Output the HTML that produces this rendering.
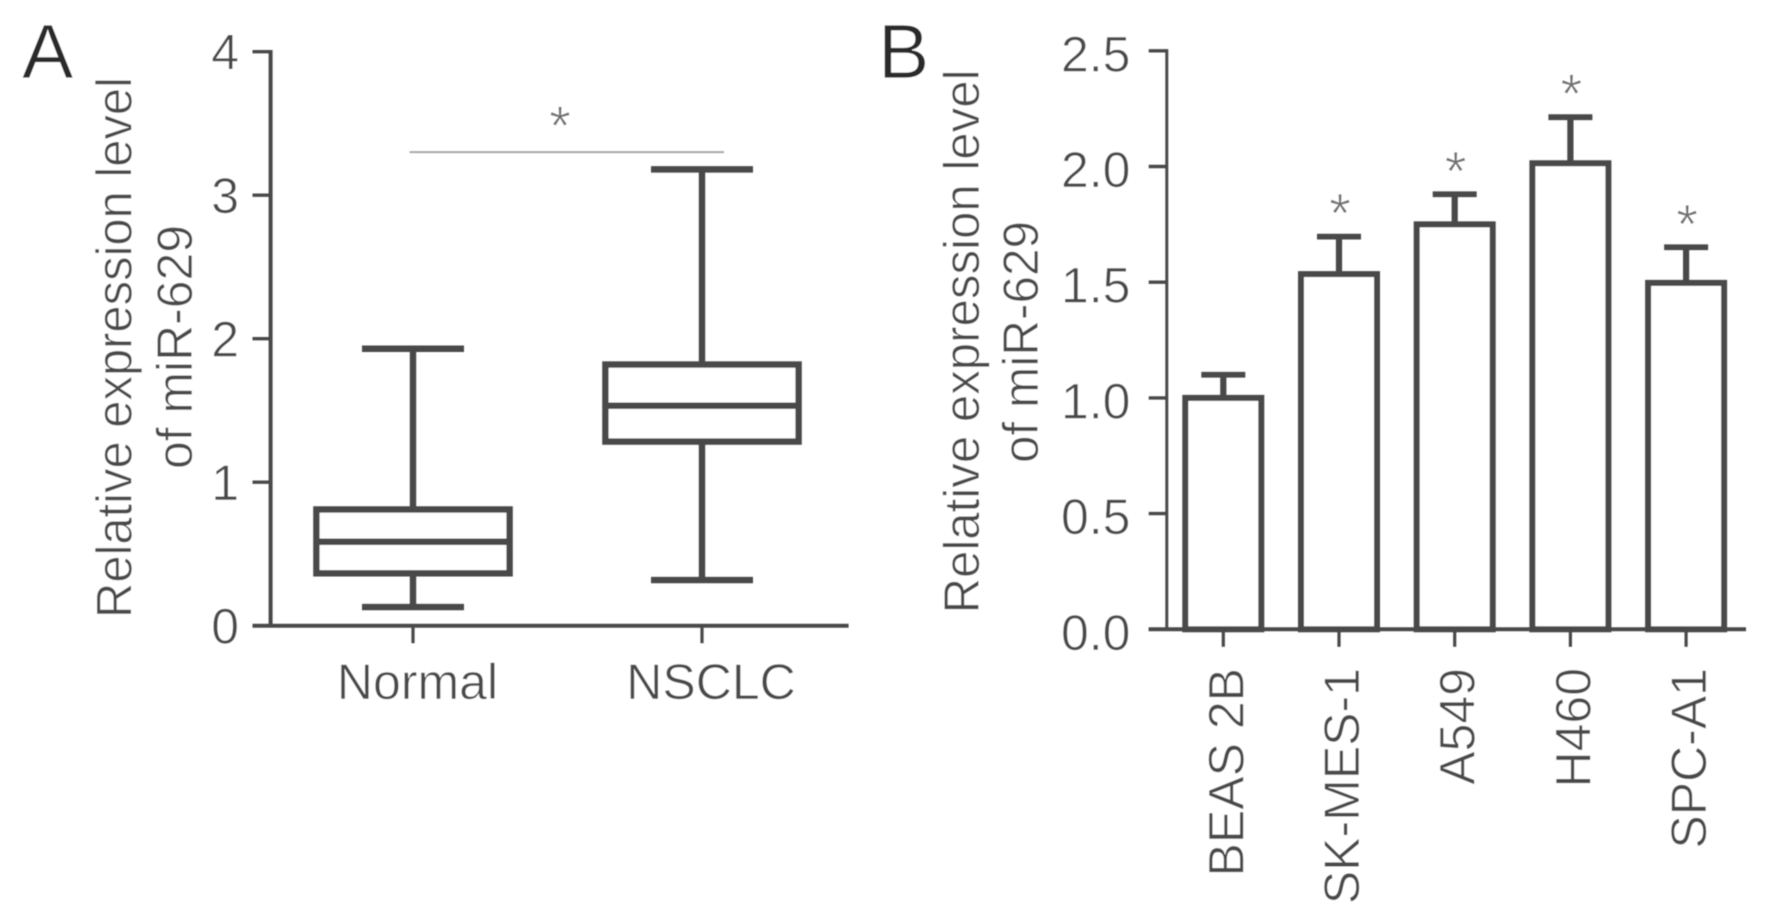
<!DOCTYPE html>
<html lang="en">
<head>
<meta charset="utf-8">
<title>miR-629 relative expression</title>
<style>
html,body{margin:0;padding:0;background:#fff;width:1772px;height:923px;overflow:hidden}
svg{display:block}
text{font-family:"Liberation Sans",sans-serif;fill:#484848;stroke:#fff;stroke-width:.6px;paint-order:normal}
</style>
</head>
<body>
<svg id="figure" xmlns="http://www.w3.org/2000/svg" width="1772" height="923" viewBox="0 0 1772 923">
<defs><filter id="soft" x="-2%" y="-2%" width="104%" height="104%"><feGaussianBlur stdDeviation="0.6"/></filter></defs>
<rect width="1772" height="923" fill="#fff"/>
<g id="root" filter="url(#soft)">
<text x="22" y="78" font-size="77" style="fill:#2a2a2a;stroke-width:.8px">A</text>
<text x="878" y="78" font-size="77" style="fill:#2a2a2a;stroke-width:.8px">B</text>
<text transform="translate(131.5 618) rotate(-90)" font-size="50" textLength="541" lengthAdjust="spacingAndGlyphs">Relative expression level</text>
<text transform="translate(192 469) rotate(-90)" font-size="50" textLength="244" lengthAdjust="spacingAndGlyphs">of miR-629</text>
<text transform="translate(979 613.5) rotate(-90)" font-size="50" textLength="544" lengthAdjust="spacingAndGlyphs">Relative expression level</text>
<text transform="translate(1038 463) rotate(-90)" font-size="50" textLength="242" lengthAdjust="spacingAndGlyphs">of miR-629</text>
</g>
</svg>
<script>
// Panel A: box plot data
const boxCategories = ['Normal', 'NSCLC'];
const boxWhiskerHigh = [1.93, 3.18];
const boxQ3 = [0.81, 1.82];
const boxMedian = [0.585, 1.533];
const boxQ1 = [0.365, 1.283];
const boxWhiskerLow = [0.13, 0.318];
const boxYTicks = [0, 1, 2, 3, 4];
const boxYTickLabels = ['0', '1', '2', '3', '4'];
const boxSignificance = [3.30];

// Panel B: bar chart data
const barCategories = ['BEAS 2B', 'SK-MES-1', 'A549', 'H460', 'SPC-A1'];
const barValues = [1.0, 1.535, 1.75, 2.014, 1.497];
const barErrorTops = [1.10, 1.697, 1.88, 2.213, 1.651];
const barStars = ['', '*', '*', '*', '*'];
const barYTicks = [0, 0.5, 1.0, 1.5, 2.0, 2.5];
const barYTickLabels = ['0.0', '0.5', '1.0', '1.5', '2.0', '2.5'];

const NS = 'http://www.w3.org/2000/svg';
const root = document.getElementById('root');
const INK = '#4a4a4a';

function yA(v) { return 625.7 - v * 143.5; }
function xA(i) { return 413 + i * 289; }
function yB(v) { return 629.3 - v * 231.4; }
function xB(i) { return 1223.3 + i * 115.7; }

function line(x1, y1, x2, y2, w, c) {
  const el = document.createElementNS(NS, 'line');
  el.setAttribute('x1', x1);
  el.setAttribute('y1', y1);
  el.setAttribute('x2', x2);
  el.setAttribute('y2', y2);
  el.setAttribute('stroke', c || INK);
  el.setAttribute('stroke-width', w);
  root.appendChild(el);
  return el;
}
function rect(x, y, w, h, sw) {
  const el = document.createElementNS(NS, 'rect');
  el.setAttribute('x', x);
  el.setAttribute('y', y);
  el.setAttribute('width', w);
  el.setAttribute('height', h);
  el.setAttribute('fill', '#fff');
  el.setAttribute('stroke', INK);
  el.setAttribute('stroke-width', sw);
  root.appendChild(el);
  return el;
}
function label(str, x, y, size, anchor, rot) {
  const el = document.createElementNS(NS, 'text');
  el.textContent = str;
  el.setAttribute('font-size', size);
  el.setAttribute('text-anchor', anchor);
  if (rot) {
    el.setAttribute('transform', 'translate(' + x + ' ' + y + ') rotate(' + rot + ')');
  } else {
    el.setAttribute('x', x);
    el.setAttribute('y', y);
  }
  root.appendChild(el);
  return el;
}

// ---- Panel A ----
boxYTicks.forEach(function (t, i) {
  const tick = line(252.5, yA(t), 270.6, yA(t), 3.4);
  
  
  const lab = label(boxYTickLabels[i], 239, yA(t) + 18, 50, 'end');
  
  
});
const axisAY = line(270.6, yA(boxYTicks[boxYTicks.length - 1]) - 1.7, 270.6, yA(0), 4);


const axisAX = line(252.5, yA(0), 848.6, yA(0), 4);



boxCategories.forEach(function (c, i) {
  const cx = xA(i);
  const tick = line(cx, yA(0), cx, yA(0) + 17.5, 3.2);
  
  
  const lab = label(c, cx + 4.5 + i * 4.5, 699, 50, 'middle');
  
  

  const whisker = line(cx, yA(boxWhiskerHigh[i]), cx, yA(boxWhiskerLow[i]), 6.4);
  
  
  const capHigh = line(cx - 51, yA(boxWhiskerHigh[i]), cx + 51, yA(boxWhiskerHigh[i]), 6.4);
  
  
  const capLow = line(cx - 51, yA(boxWhiskerLow[i]), cx + 51, yA(boxWhiskerLow[i]), 6.4);
  
  
  const box = rect(cx - 96.6, yA(boxQ3[i]), 193.2, yA(boxQ1[i]) - yA(boxQ3[i]), 6.4);
  
  
  const med = line(cx - 96.6, yA(boxMedian[i]), cx + 96.6, yA(boxMedian[i]), 6.4);
  
  
});

const sig = line(409.6, yA(boxSignificance[0]), 724, yA(boxSignificance[0]), 2, '#a8a8a8');


const sigStar = label('*', 560, yA(boxSignificance[0]) - 7, 56, 'middle');


sigStar.setAttribute('style', 'fill:#707070;stroke-width:.8px');

// ---- Panel B ----
barYTicks.forEach(function (t, i) {
  const tick = line(1148.7, yB(t), 1166.8, yB(t), 3.4);
  
  
  const lab = label(barYTickLabels[i], 1130.5, yB(t) + 20.5, 50, 'end');
  
  
});
const axisBY = line(1166.8, yB(barYTicks[barYTicks.length - 1]) - 1.7, 1166.8, yB(0), 3);



barCategories.forEach(function (c, i) {
  const cx = xB(i);
  const tick = line(cx, yB(0), cx, yB(0) + 17.5, 3.2);
  
  
  const lab = label(c, cx + 20, 668, 50, 'end', -90);
  
  

  const err = line(cx, yB(barErrorTops[i]), cx, yB(barValues[i]), 6.2);
  
  
  const cap = line(cx - 22, yB(barErrorTops[i]), cx + 22, yB(barErrorTops[i]), 5.8);
  
  
  const bar = rect(cx - 38, yB(barValues[i]), 76, yB(0) - yB(barValues[i]), 6);
  
  
  if (barStars[i]) {
    const star = label(barStars[i], cx + 1, yB(barErrorTops[i]) - 4, 56, 'middle');
    
    
    star.setAttribute('style', 'fill:#707070;stroke-width:.8px');
  }
});
const axisBX = line(1148.7, yB(0), 1746, yB(0), 4);


</script>
</body>
</html>
